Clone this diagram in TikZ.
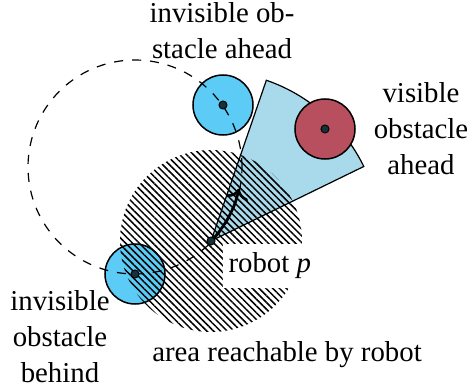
\documentclass[tikz,border=0pt]{standalone}
\usepackage{fontspec}
\setmainfont{Liberation Serif}
\usetikzlibrary{patterns.meta,arrows.meta}
\definecolor{obsblue}{RGB}{92,203,245}
\definecolor{secblue}{RGB}{168,218,236}
\definecolor{obsred}{RGB}{184,79,94}
\definecolor{dotcol}{RGB}{24,48,58}
\begin{document}
\begin{tikzpicture}[x=0.3333pt,y=0.3333pt,
  font=\fontsize{9.6pt}{12pt}\selectfont,
  obstacle/.style={circle,draw=black,line width=0.5pt,minimum size=20pt,inner sep=0pt},
  centerdot/.style={circle,fill=dotcol,draw=black,line width=0.3pt,minimum size=2.7pt,inner sep=0pt},
  txt/.style={align=center,inner sep=0pt,anchor=north},
  thinline/.style={line width=0.4pt}]
\useasboundingbox (0,0) rectangle (467,389);
\coordinate (R) at (211,148);
\coordinate (C) at (135,222);
% sensing sector
\filldraw[fill=secblue,thinline] (R) -- ++(26:170) arc[start angle=26,end angle=71,radius=170] -- cycle;
% obstacles
\node[obstacle,fill=obsblue] (A) at (223,284) {};
\node[obstacle,fill=obsred] (V) at (325,260) {};
\node[obstacle,fill=obsblue] (B) at (135,115) {};
% trajectory circle
\draw[dashed,thinline] (C) circle[radius=107];
% reachable area
\fill[pattern={Lines[angle=-45,distance=1.6pt,line width=0.5pt]}] (R) circle[radius=91];
% motion arrow
\draw[line width=0.9pt,-{To}] (R) arc[start angle=-44.2,end angle=-12,radius=107];
% centre dots
\node[centerdot] (Ac) at (A) {};
\node[centerdot] (Vc) at (V) {};
\node[centerdot] (Bc) at (B) {};
\node[centerdot] (Rc) at (R) {};
% labels
\node[txt] (lA) at (222,387) {invisible ob-\\stacle ahead};
\node[txt] (lV) at (421,307) {visible\\obstacle\\ahead};
\node[txt] (lB) at (60,99) {invisible\\obstacle\\behind};
\node[fill=white,inner xsep=2pt,inner ysep=3pt,anchor=base west] (lR) at (222,116) {robot \textit{p}};
\node[anchor=base,inner sep=0pt] (lArea) at (287,27) {area reachable by robot};
\end{tikzpicture}
\end{document}
